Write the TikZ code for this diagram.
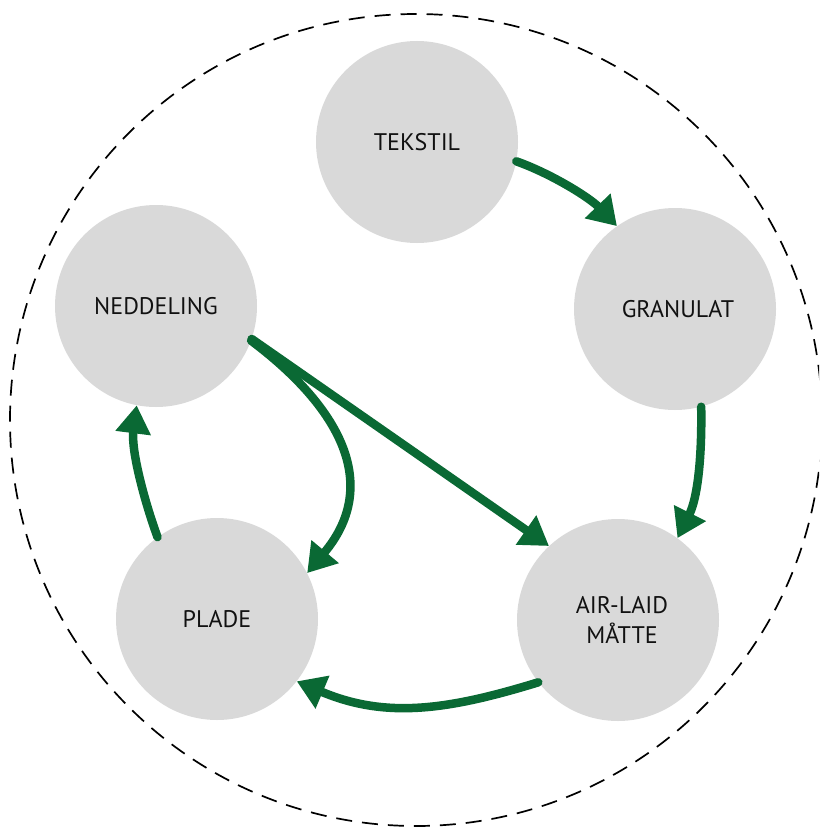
\documentclass[tikz,border=0pt]{standalone}
\usepackage{fontspec}
\setmainfont{PT Sans}
\usetikzlibrary{arrows.meta}
\definecolor{flowgreen}{HTML}{0A6934}
\definecolor{nodegray}{HTML}{D9D9D9}
\definecolor{txt}{HTML}{111111}
\begin{document}
\begin{tikzpicture}[x=1pt,y=-1pt,
  stage/.style={circle,fill=nodegray,minimum size=202pt,inner sep=0pt,
    text=txt,font=\fontsize{24}{30}\selectfont,align=center},
  flow/.style={draw=flowgreen,line width=8.5pt,line cap=round,
    -{Triangle[length=28pt,width=34pt]}},
  boundary/.style={draw=black,line width=1.7pt,dash pattern=on 16pt off 10pt}]
\useasboundingbox (0,0) rectangle (819,829);
\clip (0,0) rectangle (819,829);
\draw[boundary] (416,420) circle[radius=406];
\node[stage] (T) at (417,142) {TEKSTIL};
\node[stage] (G) at (675,309) {\hspace*{6pt}GRANULAT};
\node[stage] (N) at (156,306) {NEDDELING};
\node[stage] (P) at (217,619) {PLADE};
\node[stage] (A) at (618,620) {\hspace*{8pt}AIR-LAID\\\hspace*{8pt}MÅTTE};
% connectors
\draw[flow] (T.-11.3) .. controls (552,174) and (590,198) .. (G.125.2);
\draw[flow] (G.-75.4) .. controls (702,455) and (698,497) .. (A.54.1);
\draw[flow] (N.-19.9) -- (A.133.4);
\draw[flow] (N.-20.5) .. controls (346,412) and (378.5,488) .. (P.27.6);
\draw[flow] (P.126.1) .. controls (144,500) and (131,450) .. (N.-101.7);
\draw[flow] (A.-142) .. controls (448,710) and (386,719) .. (P.-38.2);
\end{tikzpicture}
\end{document}
